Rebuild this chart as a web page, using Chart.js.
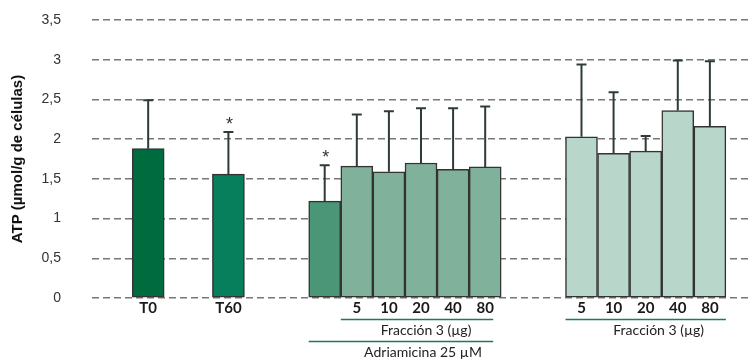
<!DOCTYPE html>
<html>
<head>
<meta charset="utf-8">
<script src="https://cdn.jsdelivr.net/npm/chart.js@4"></script>
<style>
  body { margin: 0; background: #fff; }
  #atpChart { display: block; }
</style>
</head>
<body>
<canvas id="atpChart" width="752" height="360"></canvas>
<script>
// Datos (ATP, µmol/g de células)
const ctrlLabels = ['T0', 'T60'];
const ctrlAtp = [1.88, 1.56];
const ctrlErr = [0.61, 0.53];
const ctrlStar = [false, true];
const ctrlColors = ['#006b3f', '#077e5c'];

const adrAtp = 1.22;
const adrErr = 0.45;
const adrStar = true;

const doseLabels = ['5', '10', '20', '40', '80'];
const adrFracAtp = [1.66, 1.59, 1.70, 1.62, 1.65];
const adrFracErr = [0.65, 0.76, 0.69, 0.77, 0.76];

const fracAtp = [2.03, 1.82, 1.85, 2.36, 2.16];
const fracErr = [0.91, 0.77, 0.19, 0.63, 0.82];

const yTicks = [0, 0.5, 1, 1.5, 2, 2.5, 3, 3.5];

// Posiciones en medias ranuras del eje de categorías
const slotCount = 41;
const ctrlSlots = [3, 8];
const adrSlots = [14];
const adrFracSlots = doseLabels.map((d, i) => 16 + i * 2);
const fracSlots = doseLabels.map((d, i) => 30 + i * 2);

function toSlots(slots, values) {
  const arr = new Array(slotCount).fill(null);
  slots.forEach((s, i) => { arr[s] = values[i]; });
  return arr;
}

const labels = new Array(slotCount).fill('');
ctrlSlots.forEach((s, i) => { labels[s] = ctrlLabels[i]; });
adrFracSlots.forEach((s, i) => { labels[s] = doseLabels[i]; });
fracSlots.forEach((s, i) => { labels[s] = doseLabels[i]; });

function makeSet(slots, values, errs, stars, colors) {
  return {
    data: toSlots(slots, values),
    errors: toSlots(slots, errs),
    stars: toSlots(slots, stars),
    backgroundColor: toSlots(slots, colors),
    borderColor: '#333333',
    borderWidth: 1.5,
    borderSkipped: false,
    barThickness: 32,
    grouped: false
  };
}

// Barras de error (solo hacia arriba) y asteriscos
const errorBars = {
  id: 'errorBars',
  afterDatasetsDraw(chart) {
    const ctx = chart.ctx;
    const y = chart.scales.y;
    ctx.save();
    chart.data.datasets.forEach((ds, di) => {
      const meta = chart.getDatasetMeta(di);
      meta.data.forEach((bar, i) => {
        if (ds.data[i] == null) return;
        const top = y.getPixelForValue(ds.data[i] + ds.errors[i]);
        ctx.strokeStyle = '#2e3c39';
        ctx.lineWidth = 2;
        ctx.beginPath();
        ctx.moveTo(bar.x, bar.y);
        ctx.lineTo(bar.x, top);
        ctx.moveTo(bar.x - 5, top);
        ctx.lineTo(bar.x + 5, top);
        ctx.stroke();
        if (ds.stars[i]) {
          ctx.fillStyle = '#333';
          ctx.font = '18px "Liberation Sans"';
          ctx.textAlign = 'center';
          ctx.textBaseline = 'middle';
          ctx.fillText('*', bar.x + 1, top - 7);
        }
      });
    });
    ctx.restore();
  }
};

// Etiquetas de grupo bajo el eje X
const groupLabels = {
  id: 'groupLabels',
  afterDraw(chart) {
    const ctx = chart.ctx;
    const x = chart.scales.x;
    const base = chart.chartArea.bottom;
    const half = 16;
    const px = s => x.getPixelForValue(s);

    const g1Left = px(adrFracSlots[0]) - half;
    const g1Right = px(adrFracSlots[4]) + half;
    const g2Left = px(fracSlots[0]) - half;
    const g2Right = px(fracSlots[4]) + half;
    const adrLeft = px(adrSlots[0]) - half;

    ctx.save();
    ctx.strokeStyle = '#1f7a5c';
    ctx.lineWidth = 1.5;
    ctx.beginPath();
    ctx.moveTo(g1Left, base + 21.5); ctx.lineTo(g1Right - 8, base + 21.5);
    ctx.moveTo(g2Left, base + 21.5); ctx.lineTo(g2Right, base + 21.5);
    ctx.moveTo(adrLeft, base + 43.5); ctx.lineTo(g1Right - 8, base + 43.5);
    ctx.stroke();

    ctx.fillStyle = '#222';
    ctx.font = '14px Lato';
    ctx.textAlign = 'center';
    ctx.textBaseline = 'middle';
    ctx.fillText('Fracción 3 (µg)', (g1Left + g1Right) / 2 + 5, base + 32);
    ctx.fillText('Fracción 3 (µg)', (g2Left + g2Right) / 2 + 13, base + 32);
    ctx.fillText('Adriamicina 25 µM', (g1Left + g1Right) / 2 + 2, base + 54);
    ctx.restore();
  }
};

new Chart(document.getElementById('atpChart'), {
  type: 'bar',
  data: {
    labels: labels,
    datasets: [
      makeSet(ctrlSlots, ctrlAtp, ctrlErr, ctrlStar, ctrlColors),
      makeSet(adrSlots, [adrAtp], [adrErr], [adrStar], ['#4a9677']),
      makeSet(adrFracSlots, adrFracAtp, adrFracErr, [], doseLabels.map(() => '#80b29b')),
      makeSet(fracSlots, fracAtp, fracErr, [], doseLabels.map(() => '#b9d6ca'))
    ]
  },
  options: {
    responsive: false,
    animation: false,
    layout: { padding: { top: 20, right: 2, left: 0, bottom: 0 } },
    plugins: {
      legend: { display: false },
      tooltip: { enabled: false }
    },
    scales: {
      x: {
        grid: { display: false, drawTicks: false },
        border: { display: false },
        ticks: {
          autoSkip: false,
          maxRotation: 0,
          padding: 1,
          color: '#1a1a1a',
          font: { family: 'Lato', size: 15, weight: 'bold' }
        },
        afterFit(scale) { scale.height = 62; }
      },
      y: {
        min: 0,
        max: 3.5,
        afterBuildTicks(scale) { scale.ticks = yTicks.map(v => ({ value: v })); },
        grid: { color: '#777', lineWidth: 1.5, drawTicks: false },
        border: { display: false, dash: [7, 4] },
        ticks: {
          padding: 31,
          color: '#333',
          font: { family: 'Liberation Sans', size: 14 },
          callback: v => String(v).replace('.', ',')
        },
        title: {
          display: true,
          text: 'ATP (µmol/g de células)',
          color: '#111',
          padding: { top: 9, bottom: 0 },
          font: { family: 'Liberation Sans', size: 15, weight: 'bold' }
        },
        afterFit(scale) {
          scale.width = 92;
          scale.paddingTop = 0;
          scale.paddingBottom = 0;
        }
      }
    }
  },
  plugins: [errorBars, groupLabels]
});
</script>
</body>
</html>
